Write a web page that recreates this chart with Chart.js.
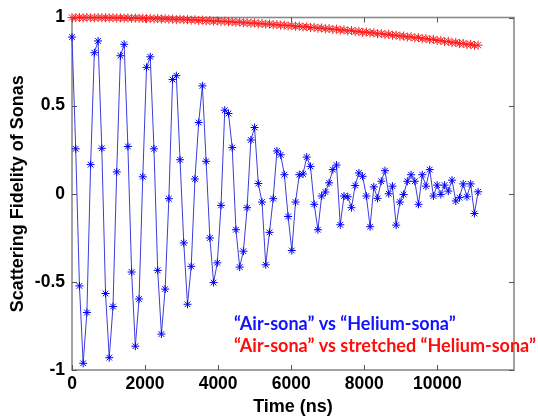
<!DOCTYPE html>
<html lang="en">
<head>
<meta charset="UTF-8">
<title>Scattering Fidelity of Sonas</title>
<script src="https://cdn.jsdelivr.net/npm/chart.js"></script>
<style>
  html, body { margin: 0; padding: 0; background: #ffffff; }
  #wrap { position: relative; width: 538px; height: 418px; }
</style>
</head>
<body>
<div id="wrap"><canvas id="fidelityChart" width="538" height="418"></canvas></div>
<script>
// sample times (ns)
const times = [0,102,204,306,408,510,612,714,816,918,1020,1122,1224,1326,1428,1530,1632,1734,1836,1938,
  2040,2142,2244,2346,2448,2550,2652,2754,2856,2958,3060,3162,3264,3366,3468,3570,3672,3774,3876,3978,
  4080,4182,4284,4386,4488,4590,4692,4794,4896,4998,5100,5202,5304,5406,5508,5610,5712,5814,5916,6018,
  6120,6222,6324,6426,6528,6630,6732,6834,6936,7038,7140,7242,7344,7446,7548,7650,7752,7854,7956,8058,
  8160,8262,8364,8466,8568,8670,8772,8874,8976,9078,9180,9282,9384,9486,9588,9690,9792,9894,9996,10098,
  10200,10302,10404,10506,10608,10710,10812,10914,11016,11118];

// "Air-sona" vs "Helium-sona"
const airVsHelium = [0.889,0.255,-0.523,-0.962,-0.674,0.165,0.800,0.867,0.258,-0.566,
  -0.930,-0.640,0.124,0.783,0.848,0.268,-0.444,-0.865,-0.597,0.096,
  0.717,0.777,0.255,-0.435,-0.796,-0.541,-0.028,0.648,0.670,0.193,
  -0.279,-0.627,-0.412,0.084,0.404,0.612,0.184,-0.251,-0.504,-0.392,
  -0.066,0.474,0.455,0.262,-0.204,-0.416,-0.326,-0.079,0.305,0.376,
  0.058,-0.047,-0.403,-0.219,-0.028,0.243,0.221,0.108,-0.129,-0.322,
  -0.047,0.108,0.112,0.208,0.155,-0.060,-0.204,-0.013,0.010,0.062,
  0.137,0.163,-0.176,-0.013,-0.017,-0.079,0.047,0.118,0.099,-0.013,
  -0.187,0.039,-0.026,0.071,0.131,0.000,0.043,-0.178,-0.047,-0.004,
  0.071,0.108,0.071,-0.060,0.108,0.043,0.137,-0.013,0.049,-0.004,
  0.049,0.015,0.077,-0.041,-0.022,0.056,-0.017,0.056,-0.112,0.011];

// "Air-sona" vs stretched "Helium-sona"
const airVsStretched = [1.000,0.999,1.000,0.998,1.000,0.999,0.998,1.000,0.998,0.999,
  0.997,0.999,0.997,0.998,0.996,0.998,0.995,0.997,0.995,0.996,
  0.993,0.995,0.992,0.994,0.991,0.993,0.990,0.991,0.988,0.990,
  0.987,0.988,0.985,0.987,0.983,0.985,0.981,0.983,0.979,0.981,
  0.977,0.979,0.975,0.976,0.972,0.974,0.970,0.971,0.967,0.969,
  0.964,0.966,0.962,0.963,0.959,0.960,0.956,0.957,0.953,0.954,
  0.950,0.951,0.946,0.948,0.943,0.944,0.939,0.941,0.936,0.937,
  0.932,0.934,0.928,0.930,0.924,0.926,0.920,0.922,0.916,0.918,
  0.912,0.913,0.908,0.909,0.903,0.905,0.899,0.900,0.894,0.895,
  0.889,0.891,0.884,0.886,0.879,0.881,0.874,0.876,0.869,0.870,
  0.863,0.865,0.857,0.859,0.852,0.853,0.846,0.848,0.841,0.843];

const xTicks = [0, 2000, 4000, 6000, 8000, 10000];
const yTicks = [-1, -0.5, 0, 0.5, 1];
const legendLines = ['\u201CAir-sona\u201D vs \u201CHelium-sona\u201D', '\u201CAir-sona\u201D vs stretched \u201CHelium-sona\u201D'];

const toPoints = (ys) => ys.map((y, i) => ({ x: times[i], y: y }));

// MATLAB style box with ticks pointing inward
const boxPlugin = {
  id: 'boxPlugin',
  beforeDatasetsDraw(chart) {
    const { ctx, chartArea: a, scales } = chart;
    ctx.save();
    ctx.strokeStyle = '#8a8a8a';
    ctx.lineWidth = 1.6;
    ctx.strokeRect(a.left, a.top, a.right - a.left, a.bottom - a.top);
    ctx.strokeStyle = '#555';
    ctx.lineWidth = 1;
    ctx.beginPath();
    xTicks.forEach(v => {
      const px = Math.round(scales.x.getPixelForValue(v)) + 0.5;
      ctx.moveTo(px, a.bottom); ctx.lineTo(px, a.bottom - 5);
      ctx.moveTo(px, a.top); ctx.lineTo(px, a.top + 5);
    });
    yTicks.forEach(v => {
      const py = Math.round(scales.y.getPixelForValue(v)) + 0.5;
      ctx.moveTo(a.left, py); ctx.lineTo(a.left + 5, py);
      ctx.moveTo(a.right, py); ctx.lineTo(a.right - 5, py);
    });
    ctx.stroke();
    ctx.restore();
  }
};

// the coloured text labels inside the plot
const textLegend = {
  id: 'textLegend',
  afterDraw(chart) {
    const ctx = chart.ctx;
    ctx.save();
    ctx.font = 'bold 18px Lato';
    const w = ctx.measureText(legendLines[1]).width;
    const size = 18 * 302 / w;
    ctx.font = 'bold ' + size.toFixed(2) + 'px Lato';
    ctx.textBaseline = 'alphabetic';
    ctx.textAlign = 'left';
    ctx.fillStyle = '#1212ff';
    ctx.fillText(legendLines[0], 234, 330);
    ctx.fillStyle = '#ff0d0d';
    ctx.fillText(legendLines[1], 234, 352);
    ctx.restore();
  }
};

const axisFont = { family: 'Arial', weight: 'bold' };

new Chart(document.getElementById('fidelityChart'), {
  type: 'line',
  data: {
    datasets: [{
      label: legendLines[0],
      data: toPoints(airVsHelium),
      borderColor: 'rgb(60,60,220)',
      borderWidth: 1,
      pointStyle: 'star',
      pointRadius: 4,
      pointBorderColor: '#0000ff',
      pointBorderWidth: 1,
      pointBackgroundColor: '#0000ff',
      tension: 0,
      clip: false
    }, {
      label: legendLines[1],
      data: toPoints(airVsStretched),
      borderColor: '#ff0000',
      borderWidth: 1,
      pointStyle: 'star',
      pointRadius: 4.5,
      pointBorderColor: '#ff2020',
      pointBorderWidth: 1,
      pointBackgroundColor: '#ff0000',
      tension: 0,
      clip: false
    }]
  },
  options: {
    responsive: false,
    animation: false,
    devicePixelRatio: 1,
    layout: { padding: { top: 13, right: 24, left: 0, bottom: 0 } },
    plugins: {
      legend: { display: false },
      tooltip: { enabled: false }
    },
    scales: {
      x: {
        type: 'linear',
        min: 0,
        max: 12100,
        afterFit: (s) => { s.height = 48; },
        afterBuildTicks: (s) => { s.ticks = xTicks.map(v => ({ value: v })); },
        grid: { display: false, drawTicks: false },
        border: { display: false },
        ticks: {
          autoSkip: false,
          maxRotation: 0,
          padding: 4,
          color: '#000',
          font: Object.assign({ size: 17.5 }, axisFont),
          callback: (v) => String(v)
        },
        title: {
          display: true,
          text: 'Time (ns)',
          color: '#000',
          padding: { top: 0, bottom: 0 },
          font: Object.assign({ size: 18 }, axisFont)
        }
      },
      y: {
        min: -1,
        max: 1,
        afterFit: (s) => { s.width = 72; },
        afterBuildTicks: (s) => { s.ticks = yTicks.map(v => ({ value: v })); },
        grid: { display: false, drawTicks: false },
        border: { display: false },
        ticks: {
          padding: 7,
          color: '#000',
          font: Object.assign({ size: 17.5 }, axisFont),
          callback: (v) => String(v)
        },
        title: {
          display: true,
          text: 'Scattering Fidelity of Sonas',
          color: '#000',
          padding: { top: 7, bottom: 0 },
          font: Object.assign({ size: 18 }, axisFont)
        }
      }
    }
  },
  plugins: [boxPlugin, textLegend]
});
</script>
</body>
</html>
